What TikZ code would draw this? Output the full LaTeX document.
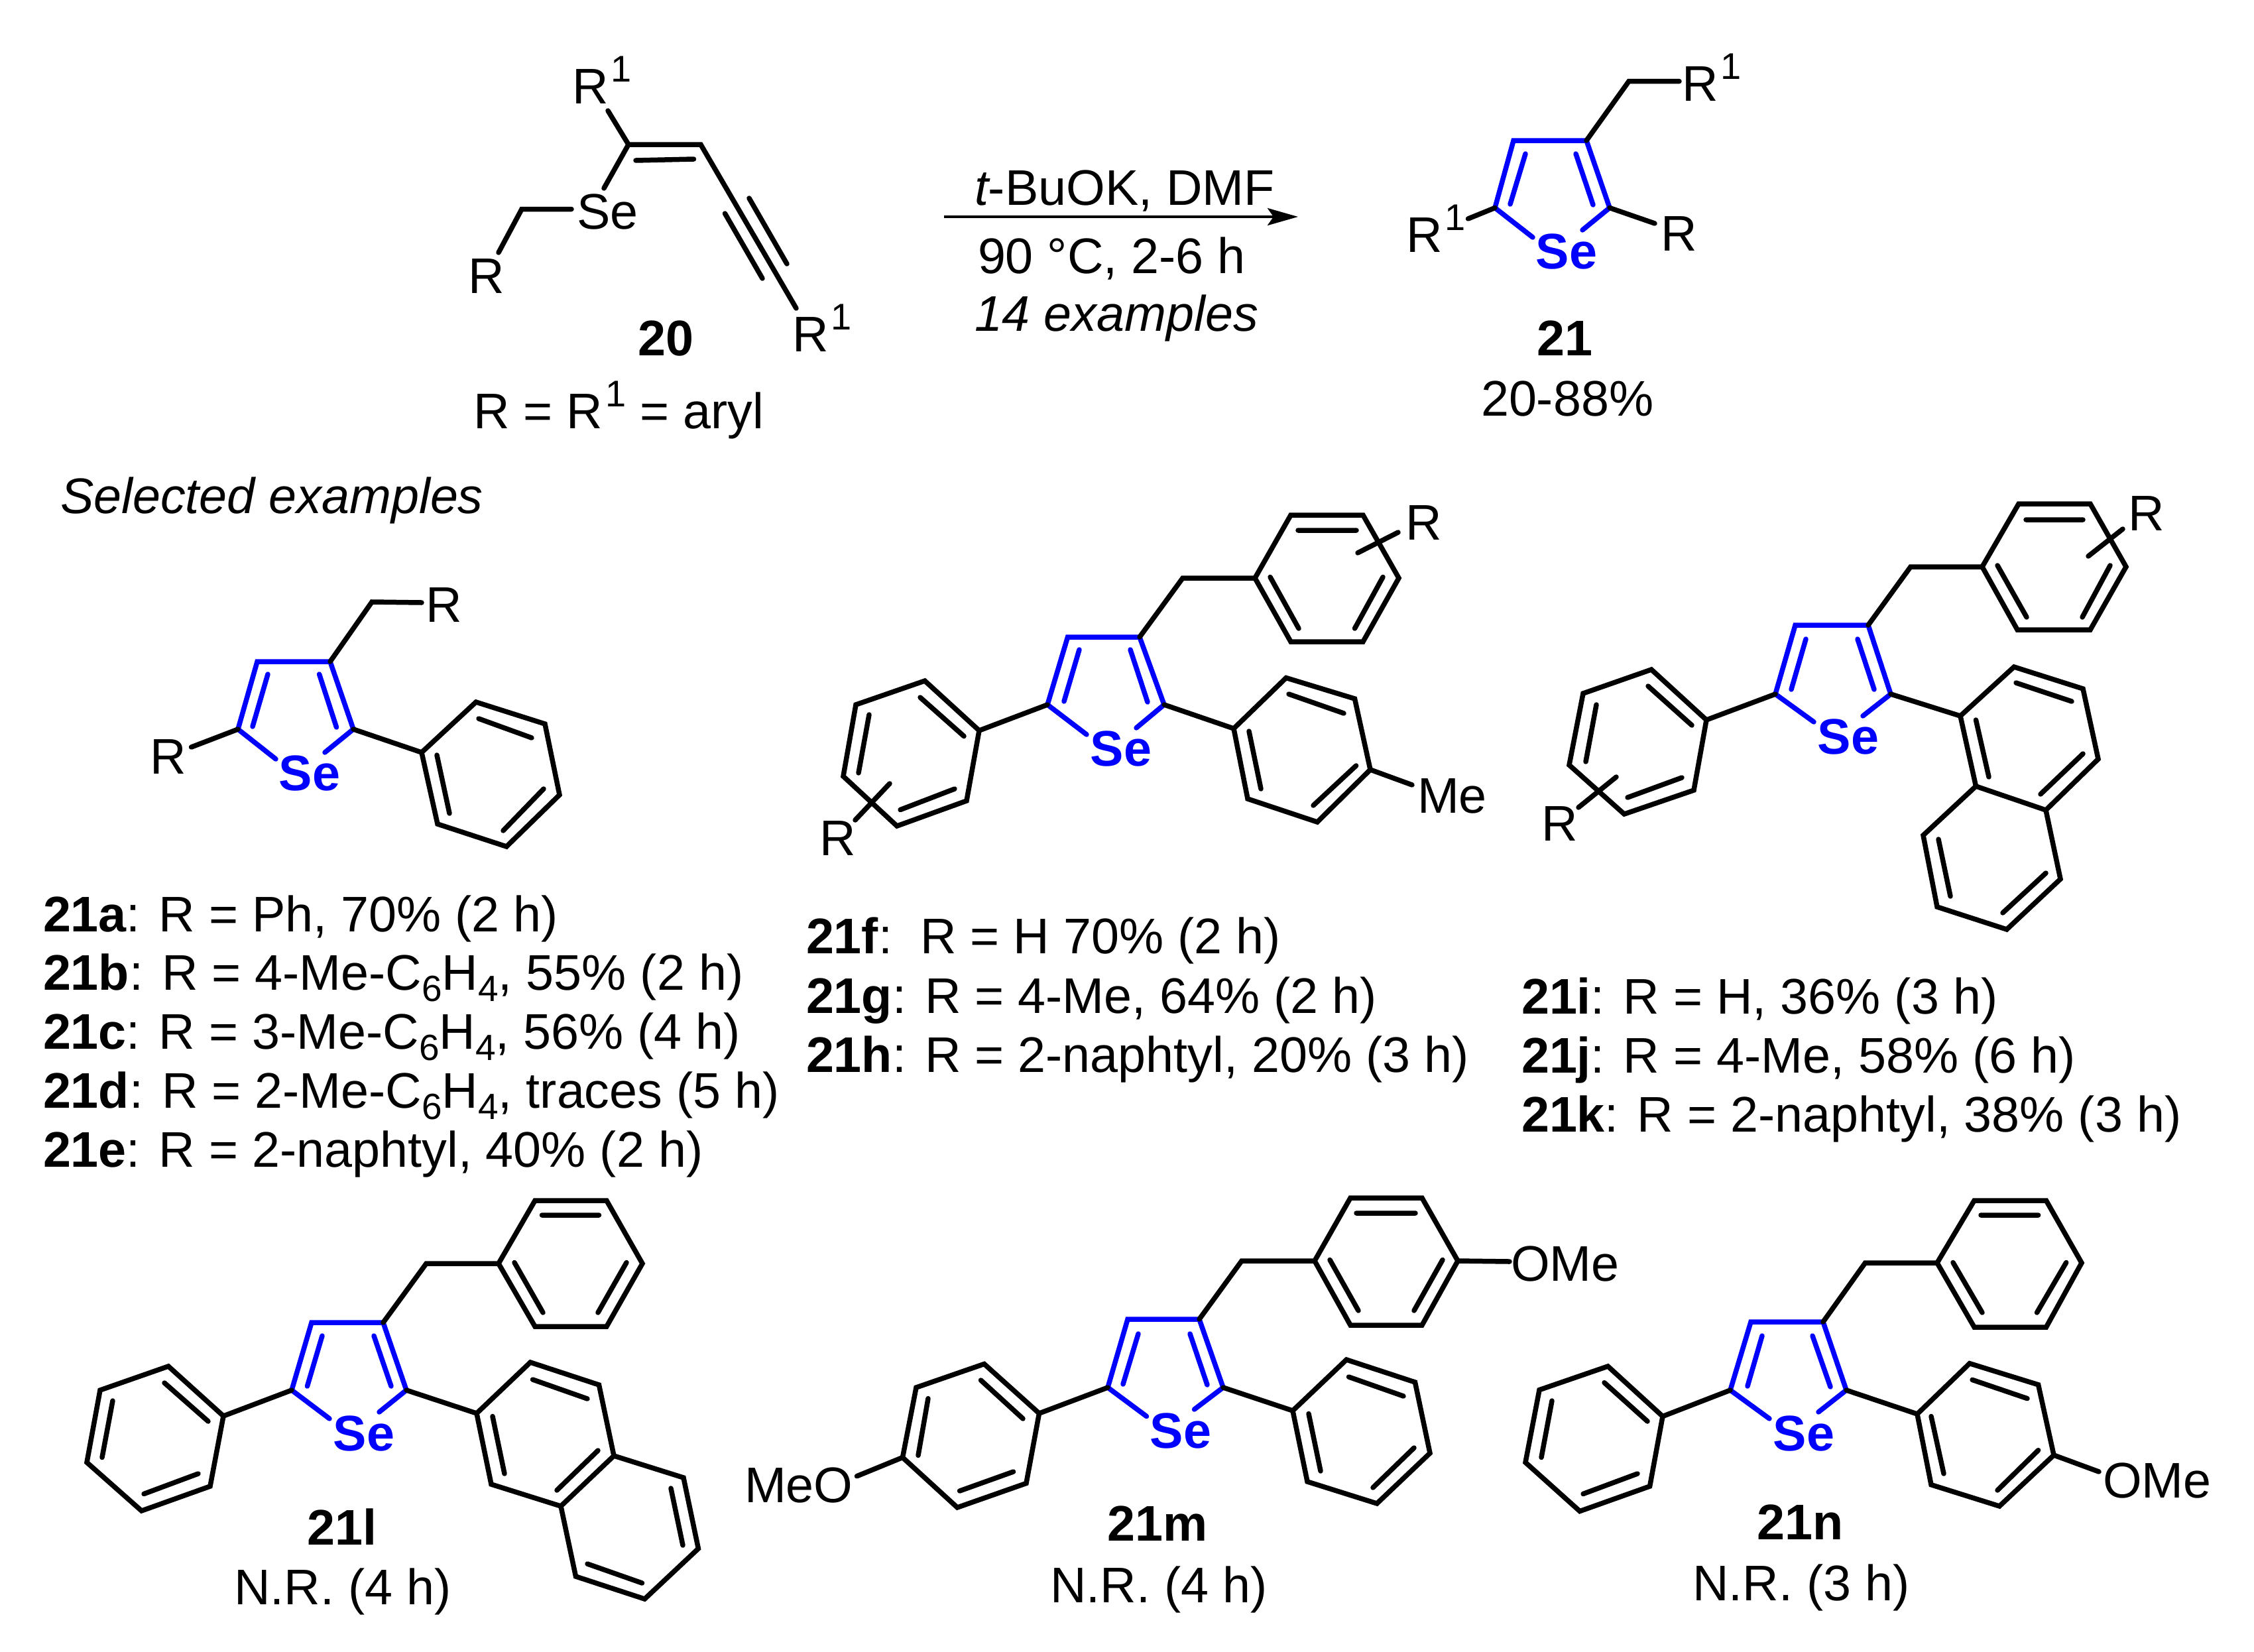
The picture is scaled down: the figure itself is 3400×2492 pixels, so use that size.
\documentclass[tikz,border=0pt]{standalone}
\usepackage{fontspec}
\setmainfont{Liberation Sans}
\usetikzlibrary{arrows.meta}
\definecolor{seblue}{RGB}{0,0,255}
\newcommand{\supa}{\kern4pt\raisebox{33pt}{\fontsize{56}{56}\selectfont 1}}
\newcommand{\subn}[1]{\raisebox{-17pt}{\fontsize{55}{55}\selectfont #1}}
\tikzset{
  x=1pt,y=-1pt,
  txt/.style={inner sep=0pt,outer sep=0pt,anchor=base west,font=\fontsize{75.5}{80}\selectfont,text=black},
  ctxt/.style={txt,anchor=base},
  selab/.style={txt,font=\fontsize{75.5}{80}\selectfont\bfseries,text=seblue},
  bond/.style={draw=black,line width=7.5pt,line cap=round,line join=miter},
  ring/.style={draw=black,line width=7.5pt,line join=miter,miter limit=10},
  sebond/.style={draw=seblue,line width=7.5pt,line cap=round,line join=miter},
}
\begin{document}
\begin{tikzpicture}
\useasboundingbox (0,0) rectangle (3400,2492);
\fill[white] (0,0) rectangle (3400,2492);

% --- 20
\node[txt] (r1a) at (863,156) {R\supa};
\node[txt] (se20) at (870,345) {Se};
\node[txt] (r20) at (706,442) {R};
\node[txt] (r1b) at (1195,530) {R\supa};
\node[ctxt] (n20) at (1004,536) {\bfseries 20};
\node[txt] (def20) at (714,646) {R = R\supa\ = aryl};
\draw[bond] (917,167)--(948,218)--(1057,218)--(1201,465) (948,218)--(911,284)
  (862,315.5)--(787,315.5)--(752,381)
  (959,242)--(1046.5,240) (1093.5,322)--(1150,420) (1130,299)--(1187,398);

% --- arrow
\coordinate (arL) at (1424,327);
\coordinate (arR) at (1958,327);
\draw[line width=4.5pt,-{Stealth[length=46pt,width=26pt,inset=9pt]}] (arL)--(arR);
\node[txt] (c1) at (1470,309) {\itshape t\upshape-BuOK, DMF};
\node[txt] (c2) at (1475,412) {90 °C, 2-6 h};
\node[txt] (c3) at (1470,499) {\itshape 14 examples};

% --- 21
\draw[sebond] (2312,358)--(2255,313.5)--(2283,212)--(2393,212)--(2428,313.5)--(2387,347)
  (2278,308)--(2301,232) (2403,309)--(2377,232);
\draw[bond] (2393,212)--(2457,122.6)--(2533,122.6) (2255,313.5)--(2214.5,330) (2428,313.5)--(2496,337);
\node[txt] (r121a) at (2537,152) {R\supa};
\node[txt] (r121b) at (2121,380) {R\supa};
\node[txt] (r21) at (2505,378) {R};
\node[selab,anchor=base] (se21) at (2363,405) {Se};
\node[ctxt] (n21) at (2360,536) {\bfseries 21};
\node[txt] (y21) at (2234,627) {20-88\%};

\node[txt] (sel) at (91,774) {\itshape Selected examples};

% --- 21a
\draw[sebond] (416,1145)--(359,1100)--(388,998)--(498,998)--(533,1100)--(490,1135)
  (381,1096)--(404,1017) (507.5,1097)--(481.6,1017);
\draw[bond] (498,998)--(561,908)--(636,909) (359,1100)--(288.6,1127) (533,1100)--(636,1135);
\draw[ring] (636,1135)--(718,1059)--(822,1092)--(844,1199)--(764,1277)--(660,1243)--cycle;
\draw[bond] (722,1084)--(802,1113) (820,1190)--(759,1253) (678,1227)--(659,1139);
\node[txt] (ra1) at (642,938) {R};
\node[txt] (ra2) at (226,1167) {R};
\node[selab,anchor=base] (sea) at (467,1192) {Se};

\node[txt] (l21a) at (65,1405) {\bfseries 21a\mdseries: R = Ph, 70\% (2 h)};
\node[txt] (l21b) at (65,1493) {\bfseries 21b\mdseries: R = 4-Me-C\subn{6}H\subn{4}, 55\% (2 h)};
\node[txt] (l21c) at (65,1582) {\bfseries 21c\mdseries: R = 3-Me-C\subn{6}H\subn{4}, 56\% (4 h)};
\node[txt] (l21d) at (65,1671) {\bfseries 21d\mdseries: R = 2-Me-C\subn{6}H\subn{4}, traces (5 h)};
\node[txt] (l21e) at (65,1760) {\bfseries 21e\mdseries: R = 2-naphtyl, 40\% (2 h)};

% --- 21f-h
\draw[sebond] (1639,1108)--(1580,1063)--(1610.5,961)--(1719,961)--(1756,1063)--(1714,1098)
  (1605,1058)--(1628,980) (1731,1059)--(1705,980);
\draw[bond] (1719,961)--(1784,872)--(1893,872) (1580,1063)--(1477,1102) (1756,1063)--(1861,1099) (2067,1161)--(2130,1184);
\draw[ring] (1893,872)--(1947,777)--(2056,777)--(2110,872)--(2056,968)--(1947,968)--cycle;
\draw[bond] (1958,800)--(2046,800) (1916,870.5)--(1959,948) (2086,870.5)--(2043.5,948) (2109,803)--(2048,834);
\draw[ring] (1477,1102)--(1395,1027)--(1291,1063)--(1272,1171)--(1353,1246)--(1458,1208)--cycle;
\draw[bond] (1388,1052)--(1454,1110.5) (1311,1078)--(1295,1166) (1358,1221.5)--(1440,1190) (1342,1182)--(1290,1237);
\draw[ring] (1861,1099)--(1940,1022.5)--(2043.5,1054)--(2067,1161)--(1987,1240)--(1882,1205)--cycle;
\draw[bond] (1944,1047)--(2027,1076) (2045.6,1155)--(1981,1215) (1884,1103)--(1902,1190);
\node[txt] (rf1) at (2120,814) {R};
\node[txt] (rf2) at (1236,1290) {R};
\node[txt] (mef) at (2138,1226) {Me};
\node[selab,anchor=base] (sef) at (1691,1155) {Se};

\node[txt] (l21f) at (1216,1438) {\bfseries 21f\mdseries:\ \ R = H 70\% (2 h)};
\node[txt] (l21g) at (1216,1528) {\bfseries 21g\mdseries: R = 4-Me, 64\% (2 h)};
\node[txt] (l21h) at (1216,1617) {\bfseries 21h\mdseries: R = 2-naphtyl, 20\% (3 h)};

% --- 21i-k
\draw[sebond] (2736,1089)--(2678,1047)--(2708,943)--(2818,943)--(2852,1047)--(2810,1080)
  (2702,1040)--(2724,964) (2827,1040)--(2802,964);
\draw[bond] (2818,943)--(2882,855)--(2990,855) (2678,1047)--(2574,1086) (2852,1047)--(2957,1080);
\draw[ring] (2990,855)--(3045,760)--(3153,760)--(3207,855)--(3153,950)--(3043,950)--cycle;
\draw[bond] (3056,784)--(3142,784) (3013,853)--(3057,931) (3183,853)--(3141,931) (3202,798)--(3150,839);
\draw[ring] (2574,1086)--(2491,1010)--(2388,1046)--(2367,1154)--(2450,1228)--(2555,1192)--cycle;
\draw[bond] (2486,1035)--(2552,1094) (2408,1063)--(2392,1149) (2455,1203)--(2537,1173) (2438,1172)--(2381,1218);
\draw[ring] (2957,1080)--(3038,1006)--(3142,1039)--(3165,1145)--(3086,1222)--(2980.5,1186)--cycle;
\draw[ring] (2980.5,1186)--(2901,1260)--(2922,1368)--(3027,1402)--(3108,1326)--(3086,1222);
\draw[bond] (3041,1030)--(3125,1058) (3142,1137)--(3078,1198) (2980.5,1086)--(3000,1172)
  (2924,1266)--(2942,1352) (3021,1377)--(3086,1317);
\node[txt] (ri1) at (3210,800.5) {R};
\node[txt] (ri2) at (2325,1268) {R};
\node[selab,anchor=base] (sei) at (2788,1137) {Se};

\node[txt] (l21i) at (2295,1529) {\bfseries 21i\mdseries: R = H, 36\% (3 h)};
\node[txt] (l21j) at (2295,1618) {\bfseries 21j\mdseries: R = 4-Me, 58\% (6 h)};
\node[txt] (l21k) at (2295,1707) {\bfseries 21k\mdseries: R = 2-naphtyl, 38\% (3 h)};

% --- 21l
\draw[sebond] (497,2140)--(440,2097)--(470,1995)--(578,1995)--(613,2097)--(572,2130)
  (463.5,2091)--(486,2015) (590,2091)--(564,2015);
\draw[bond] (578,1995)--(643,1906)--(752,1906) (440,2097)--(337,2136) (613,2097)--(719,2132);
\draw[ring] (752,1906)--(807,1811)--(915,1811)--(969,1906)--(915,2001)--(807,2001)--cycle;
\draw[bond] (817.5,1833)--(903.5,1833) (776,1904.5)--(819,1980) (945,1904.5)--(902,1980);
\draw[ring] (337,2136)--(254,2061)--(151,2097)--(131,2206)--(213.5,2279)--(317,2242)--cycle;
\draw[bond] (248,2086)--(314,2144) (170,2113)--(154,2198.5) (217,2253.5)--(299,2223);
\draw[ring] (719,2132)--(800,2055)--(903.5,2089)--(926,2196)--(846,2272)--(741,2239)--cycle;
\draw[ring] (926,2196)--(1031,2229)--(1053.4,2336)--(972.4,2412)--(868.5,2378)--(846,2272);
\draw[bond] (803.5,2081)--(886,2110) (902,2188)--(840,2248) (743,2136.5)--(761,2223)
  (1012,2245)--(1030,2331) (968.6,2388)--(886,2359);
\node[selab,anchor=base] (sel2) at (549,2188) {Se};
\node[ctxt] (n21l) at (516,2330) {\bfseries 21l};
\node[ctxt] (y21l) at (517,2420) {N.R. (4 h)};

% --- 21m
\draw[sebond] (1729.5,2136.5)--(1671,2093)--(1701,1990)--(1809,1990)--(1845,2093)--(1801.5,2126)
  (1694,2088)--(1717,2012) (1821,2089)--(1795,2012);
\draw[bond] (1809,1990)--(1873,1902)--(1983,1902) (1671,2093)--(1567.5,2132) (1845,2093)--(1950,2128)
  (2199,1902)--(2277,1903) (1361.5,2198.5)--(1292.6,2226.7);
\draw[ring] (1983,1902)--(2037,1807)--(2145,1807)--(2199,1902)--(2145,1999)--(2037,1999)--cycle;
\draw[bond] (2046,1830)--(2135,1830) (2006,1900.5)--(2049,1977) (2176,1900.5)--(2133,1977);
\draw[ring] (1567.5,2132)--(1484.6,2057.5)--(1382,2093)--(1361.5,2198.5)--(1444,2274)--(1548,2237.5)--cycle;
\draw[bond] (1479.5,2082)--(1543,2140) (1400,2109.6)--(1385,2195.4) (1447.6,2249)--(1528.6,2220);
\draw[ring] (1950,2128)--(2031,2051)--(2134.5,2085)--(2157,2192)--(2077,2268)--(1972,2235)--cycle;
\draw[bond] (2034.5,2077)--(2117,2106) (2133,2184)--(2071,2244) (1974,2132.5)--(1992,2219);
\node[txt] (omem) at (2279,1932) {OMe};
\node[txt] (meom) at (1123,2266.5) {MeO};
\node[selab,anchor=base] (sem) at (1781,2184) {Se};
\node[ctxt] (n21m) at (1746,2324) {\bfseries 21m};
\node[ctxt] (y21m) at (1748,2417) {N.R. (4 h)};

% --- 21n
\draw[sebond] (2669,2140)--(2610,2097)--(2641,1994)--(2750,1994)--(2785,2097)--(2743,2130)
  (2636,2091)--(2658,2015) (2761,2092)--(2734,2015);
\draw[bond] (2750,1994)--(2813.5,1905)--(2922,1905) (2610,2097)--(2508,2136.5) (2785,2097)--(2892,2133) (3098,2195)--(3166,2220);
\draw[ring] (2922,1905)--(2978,1811)--(3086.5,1811)--(3140,1905)--(3086.5,2002)--(2978,2002)--cycle;
\draw[bond] (2988,1833)--(3074.6,1833) (2946,1904.5)--(2990,1980) (3116.7,1904.5)--(3072.5,1980);
\draw[ring] (2508,2136.5)--(2425.4,2061)--(2322,2096.6)--(2301,2206)--(2383,2279.6)--(2488.6,2242)--cycle;
\draw[bond] (2420,2085.7)--(2485,2144) (2341,2113)--(2325,2198.5) (2388,2253.5)--(2470,2223);
\draw[ring] (2892,2133)--(2971,2056.7)--(3074.6,2088.8)--(3098,2195)--(3016,2272)--(2913,2239.7)--cycle;
\draw[bond] (2975,2081.4)--(3058,2109.6) (3074.6,2187.6)--(3013,2248) (2913,2136.5)--(2932,2223);
\node[txt] (omen) at (3172,2259) {OMe};
\node[selab,anchor=base] (sen) at (2721,2188) {Se};
\node[ctxt] (n21n) at (2716,2322) {\bfseries 21n};
\node[ctxt] (y21n) at (2717,2414) {N.R. (3 h)};
\end{tikzpicture}
\end{document}
